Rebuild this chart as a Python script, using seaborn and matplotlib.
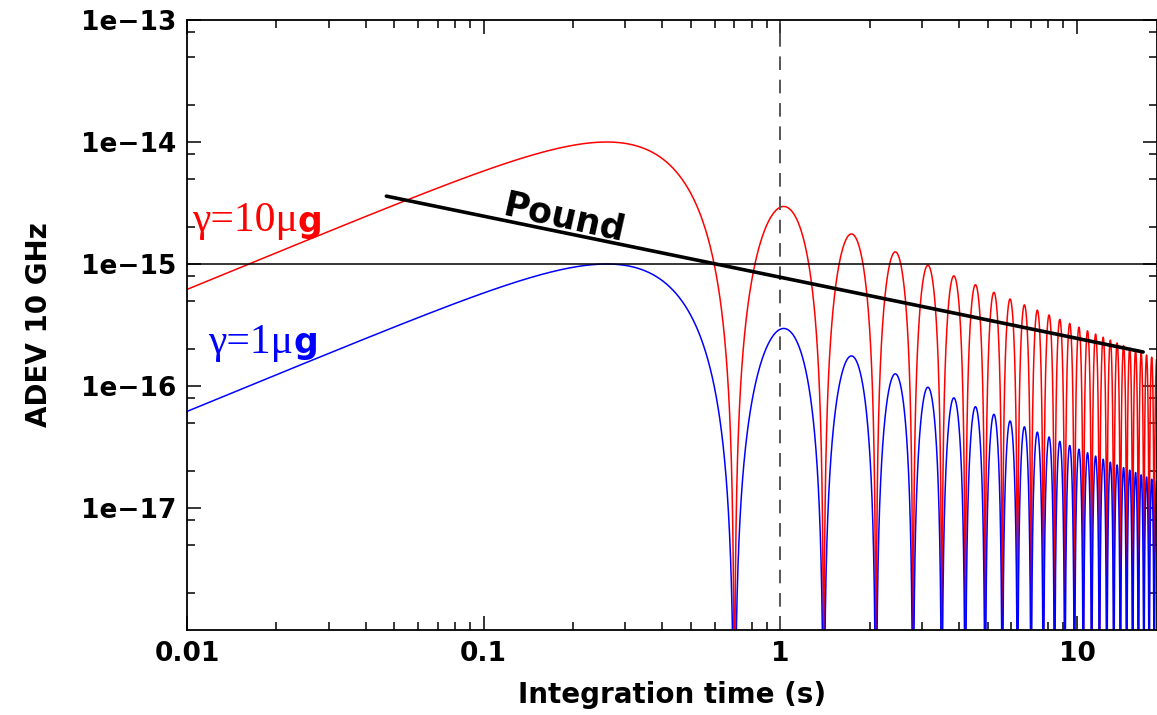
import numpy as np
import pandas as pd
import matplotlib
matplotlib.use("Agg")
import matplotlib.pyplot as plt
import matplotlib.ticker as mtick
import seaborn as sns

# Values
zero_spacing = 0.7            # s, nulls at 0.7, 1.4, 2.1, ...
first_peak_tau = 0.26         # s, position of the first (largest) lobe
peak_adev = [1.0e-14, 1.0e-15]  # top of first lobe, gamma = 10 ug / 1 ug
curve_colors = ["#ff0000", "#0000ff"]
gamma_text = ["\u03b3=10\u03bc", "\u03b3=1\u03bc"]

pound_tau = [0.047, 16.7]
pound_adev = [3.6e-15, 1.9e-16]

x_ticks = [0.01, 0.1, 1, 10]
x_ticklabels = ["0.01", "0.1", "1", "10"]
y_ticks = [1e-17, 1e-16, 1e-15, 1e-14, 1e-13]
y_ticklabels = ["1e\u221217", "1e\u221216", "1e\u221215", "1e\u221214", "1e\u221213"]

# ADEV of a sinusoidal perturbation: sin^2(pi tau / T) / tau shape
tau = np.geomspace(0.01, 18.6, 150000)
shape = np.sin(np.pi * tau / zero_spacing) ** 2 / tau
shape_peak = np.sin(np.pi * first_peak_tau / zero_spacing) ** 2 / first_peak_tau
frames = []
for name, pk in zip(gamma_text, peak_adev):
    frames.append(pd.DataFrame({"tau": tau, "adev": pk * shape / shape_peak, "curve": name}))
df = pd.concat(frames, ignore_index=True)
df["adev"] = df["adev"].clip(lower=1e-20)

sns.set_style("ticks")
plt.rcParams["font.family"] = ["DejaVu Sans"]
plt.rcParams["font.weight"] = "bold"
plt.rcParams["text.color"] = "black"
plt.rcParams["axes.labelcolor"] = "black"
plt.rcParams["xtick.color"] = "black"
plt.rcParams["ytick.color"] = "black"

fig = plt.figure(figsize=(11.57, 7.15), dpi=100)
ax = fig.add_axes([187 / 1157, 85 / 715, 970 / 1157, 610 / 715])
ax.set_xscale("log")
ax.set_yscale("log")

sns.lineplot(data=df, x="tau", y="adev", hue="curve", palette=dict(zip(gamma_text, curve_colors)),
             estimator=None, sort=False, linewidth=1.1, legend=False, ax=ax)

ax.axhline(1e-15, color="black", linewidth=1.1)
ax.axvline(1.0, color="#555555", linewidth=1.4, linestyle=(0, (7, 5)))
sns.lineplot(x=pound_tau, y=pound_adev, color="black", linewidth=2.6, ax=ax)

ax.set_xlim(0.01, 18.6)
ax.set_ylim(1e-18, 1e-13)

ax.xaxis.set_major_locator(mtick.FixedLocator(x_ticks))
ax.xaxis.set_major_formatter(mtick.FixedFormatter(x_ticklabels))
ax.xaxis.set_minor_locator(mtick.LogLocator(base=10, subs=np.arange(2, 10), numticks=20))
ax.xaxis.set_minor_formatter(mtick.NullFormatter())
ax.yaxis.set_major_locator(mtick.FixedLocator(y_ticks))
ax.yaxis.set_major_formatter(mtick.FixedFormatter(y_ticklabels))
ax.yaxis.set_minor_locator(mtick.LogLocator(base=10, subs=[2, 5, 8], numticks=20))
ax.yaxis.set_minor_formatter(mtick.NullFormatter())

ax.tick_params(which="both", direction="in", top=True, right=True, width=1.1, color="black")
ax.tick_params(which="major", length=10, labelsize=19, pad=8, labelcolor="black")
ax.tick_params(which="minor", length=5.5)
for lab in ax.get_xticklabels() + ax.get_yticklabels():
    lab.set_fontweight("bold")
for sp in ax.spines.values():
    sp.set_linewidth(1.3)
    sp.set_color("black")

ax.set_xlabel("Integration time (s)", fontsize=20, fontweight="bold", labelpad=10, color="black")
ax.set_ylabel("ADEV 10 GHz", fontsize=20, fontweight="bold", labelpad=20, color="black")

ax.text(0.187, 2.38e-15, "Pound", fontsize=25, fontweight="bold", rotation=-12.5,
        ha="center", va="center", rotation_mode="anchor", color="black")

# gamma labels: serif part then bold sans "g"
label_pos = [(0.0104, 1.85e-15), (0.0118, 1.88e-16)]
for (lx, ly), txt, col in zip(label_pos, gamma_text, curve_colors):
    t1 = ax.text(lx, ly, txt, fontsize=30, family="Liberation Serif", fontweight="normal",
                 color=col, ha="left", va="baseline")
    ax.annotate("g", xy=(1, 0), xycoords=t1, xytext=(0, 1), textcoords="offset points",
                fontsize=25, fontweight="bold", color=col, ha="left", va="bottom")

fig.savefig("out.png", dpi=100)
